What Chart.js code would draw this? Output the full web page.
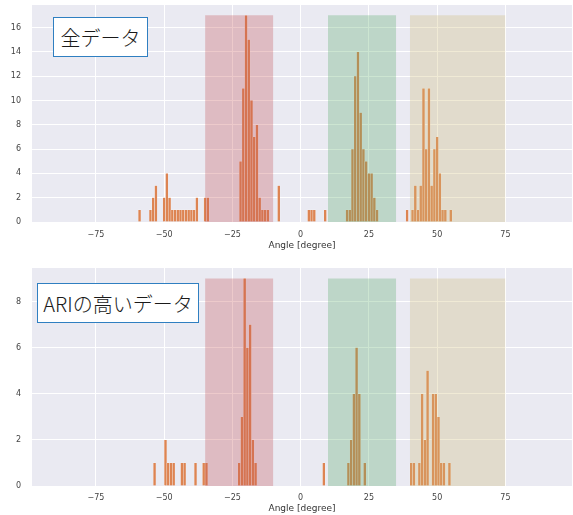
<!DOCTYPE html>
<html>
<head>
<meta charset="utf-8">
<script src="https://cdn.jsdelivr.net/npm/chart.js@4.4.1/dist/chart.umd.min.js"></script>
<style>
  body { margin: 0; background: #fff; width: 573px; height: 515px; position: relative; overflow: hidden; }
  .panel { position: absolute; left: 0; }
  .box {
    position: absolute; background: #fff; border: 1.5px solid #2f7fc1; box-sizing: border-box;
    font-family: "Noto Sans CJK JP", sans-serif; font-size: 20px; font-weight: 300; color: #1a1a1a;
    display: flex; align-items: center; justify-content: center; white-space: nowrap;
  }
</style>
</head>
<body>
<div class="panel" style="top:0"><canvas id="allChart" width="573" height="258"></canvas></div>
<div class="panel" style="top:258px"><canvas id="ariChart" width="573" height="257"></canvas></div>
<div class="box" style="left:53px;top:17px;width:95px;height:40px">全データ</div>
<div class="box" style="left:37px;top:283px;width:162px;height:40px">ARIの高いデータ</div>

<script>
// histogram of all data (bin centre, count)
var allAngles = [-59,-55,-54,-53,-50,-49,-48,-47,-46,-45,-44,-43,-42,-41,-40,-39,-38,-35,-34,
  -22,-21,-20,-19,-18,-17,-16,-15,-14,-13,-12,-8,3,4,5,9,
  17,18,19,20,21,22,23,24,25,26,27,28,
  39,41,42,43,44,45,46,47,48,49,50,51,52,53,55];
var allCounts = [1,1,2,3,2,4,2,1,1,1,1,1,1,1,1,1,2,2,2,
  5,11,17,15,10,7,8,2,1,1,1,3,1,1,1,1,
  1,1,6,12,14,9,6,5,4,4,2,1,
  1,1,3,1,3,11,6,11,3,6,7,4,1,1,1];

// histogram of high-ARI data
var ariAngles = [-53.5,-49.5,-48.5,-47.5,-46.5,-43.5,-42.5,-38.5,-35.5,-34.5,
  -22.5,-21.5,-20.5,-19.5,-18.5,-17.5,-16.5,8.5,
  17.5,18.5,19.5,20.5,21.5,23.5,
  40.5,41.5,43.5,44.5,45.5,46.5,48.5,49.5,50.5,51.5,52.5,54.5];
var ariCounts = [1,2,1,1,1,1,1,1,1,1,
  1,3,9,6,7,2,1,1,
  1,2,4,6,4,1,
  1,1,1,4,2,5,4,4,3,1,1,1];

// shaded angle ranges
var spanStarts = [-35, 10, 40];
var spanEnds = [-10, 35, 75];

var xTicks = [-75, -50, -25, 0, 25, 50, 75];
var allYTicks = [0, 2, 4, 6, 8, 10, 12, 14, 16];
var ariYTicks = [0, 2, 4, 6, 8];

var spanColors = ['rgba(196,78,82,0.3)', 'rgba(85,168,104,0.3)', 'rgba(204,185,116,0.3)'];

var bgPlugin = {
  id: 'bg',
  beforeDraw: function(chart) {
    var a = chart.chartArea, ctx = chart.ctx;
    ctx.save();
    ctx.fillStyle = '#eaeaf2';
    ctx.fillRect(a.left, a.top, a.right - a.left, a.bottom - a.top);
    ctx.restore();
  }
};

function fmt(v) {
  return v < 0 ? '\u2212' + Math.abs(v) : String(v);
}

function noPad(s) {
  s.paddingTop = 0; s.paddingBottom = 0; s.paddingLeft = 0; s.paddingRight = 0;
}

function drawHist(id, angles, counts, yTicks, opts) {
  var top = Math.max.apply(null, counts);
  var datasets = [{
    type: 'bar',
    data: angles.map(function(a, i) { return {x: a, y: counts[i]}; }),
    backgroundColor: '#dd8452',
    borderColor: 'rgba(255,255,255,0.55)',
    borderWidth: 0.5,
    barPercentage: 1,
    categoryPercentage: 1,
    order: 2
  }];
  spanStarts.forEach(function(s, i) {
    datasets.push({
      type: 'line',
      data: [{x: s, y: top}, {x: spanEnds[i], y: top}],
      backgroundColor: spanColors[i],
      borderWidth: 0,
      pointRadius: 0,
      fill: 'origin',
      order: 1
    });
  });

  new Chart(document.getElementById(id), {
    type: 'bar',
    data: {datasets: datasets},
    plugins: [bgPlugin],
    options: {
      responsive: false,
      animation: false,
      layout: {padding: {top: opts.padTop, right: 1, left: 0, bottom: 0}},
      plugins: {legend: {display: false}, tooltip: {enabled: false}},
      scales: {
        x: {
          type: 'linear', min: -98.4, max: 99.4, offset: false,
          afterBuildTicks: function(s) { s.ticks = xTicks.map(function(v) { return {value: v}; }); },
          afterFit: function(s) { s.height = opts.xHeight; noPad(s); },
          grid: {color: '#ffffff', lineWidth: 1, drawTicks: false, offset: false},
          border: {display: false},
          ticks: {padding: opts.tickPad, color: '#444', font: {family: 'DejaVu Sans', size: 8}, callback: fmt, maxRotation: 0},
          title: {display: true, text: 'Angle [degree]', color: '#333', font: {family: 'DejaVu Sans', size: 9}, padding: {top: 0, bottom: opts.titlePad}}
        },
        y: {
          min: 0, max: top * 1.05,
          afterBuildTicks: function(s) { s.ticks = yTicks.map(function(v) { return {value: v}; }); },
          afterFit: function(s) { s.width = 32; noPad(s); },
          grid: {color: '#ffffff', lineWidth: 1, drawTicks: false},
          border: {display: false},
          ticks: {padding: 11, color: '#444', font: {family: 'DejaVu Sans', size: 8}, callback: fmt}
        }
      }
    }
  });
}

drawHist('allChart', allAngles, allCounts, allYTicks, {padTop: 5, xHeight: 36, tickPad: 8, titlePad: 6.6});
drawHist('ariChart', ariAngles, ariCounts, ariYTicks, {padTop: 10, xHeight: 29, tickPad: 7, titlePad: 0.6});
</script>
</body>
</html>
